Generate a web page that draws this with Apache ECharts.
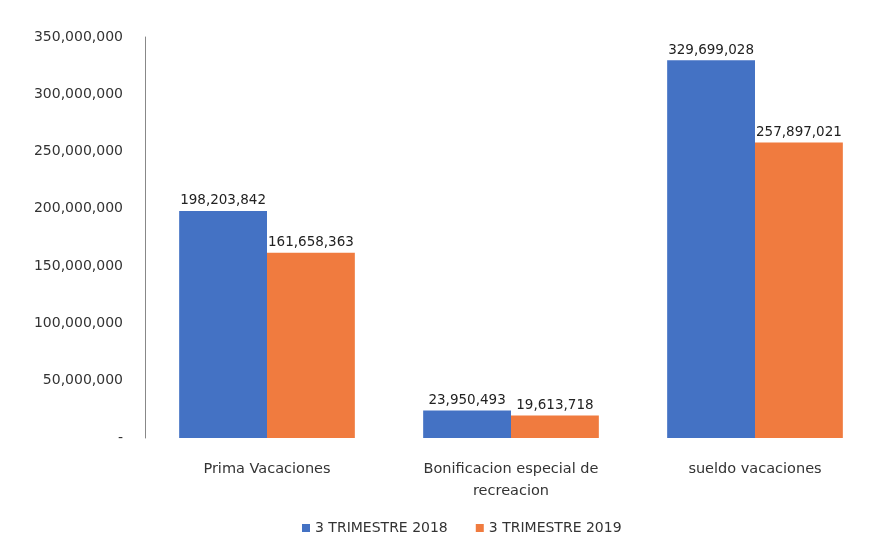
<!DOCTYPE html>
<html>
<head>
<meta charset="utf-8">
<script src="https://cdn.jsdelivr.net/npm/echarts@6/dist/echarts.min.js"></script>
<style>
  html, body { margin: 0; padding: 0; background: #fff; }
  #chart { width: 888px; height: 560px; }
</style>
</head>
<body>
<div id="chart"></div>
<script>
var categories = ['Prima Vacaciones', 'Bonificacion especial de\nrecreacion', 'sueldo vacaciones'];
var seriesNames = ['3 TRIMESTRE 2018', '3 TRIMESTRE 2019'];
var values2018 = [198203842, 23950493, 329699028];
var values2019 = [161658363, 19613718, 257897021];
var colors = ['#4472C4', '#F07B3F'];

function fmt(v) {
  if (v === 0) return '-';
  return v.toString().replace(/\B(?=(\d{3})+(?!\d))/g, ',');
}

var chart = echarts.init(document.getElementById('chart'));
var labelStyle = {
  show: true,
  position: 'top',
  distance: 3,
  color: '#222',
  fontFamily: 'DejaVu Sans',
  fontSize: 13.5,
  formatter: function (p) { return fmt(p.value); }
};

chart.setOption({
  animation: false,
  textStyle: { fontFamily: 'DejaVu Sans' },
  grid: { left: 145, right: 11, top: 37, bottom: 122 },
  legend: {
    bottom: 20,
    left: 297,
    itemWidth: 8,
    itemHeight: 8,
    itemGap: 28,
    icon: 'rect',
    textStyle: { color: '#333', fontSize: 14, fontFamily: 'DejaVu Sans' },
    data: seriesNames
  },
  xAxis: {
    type: 'category',
    data: categories,
    axisLine: { show: false },
    axisTick: { show: false },
    axisLabel: { color: '#333', fontSize: 14.5, fontFamily: 'DejaVu Sans', margin: 20, lineHeight: 22 }
  },
  yAxis: {
    type: 'value',
    min: 0,
    max: 350000000,
    interval: 50000000,
    splitLine: { show: false },
    axisLine: { show: true, lineStyle: { color: '#888' } },
    axisTick: { show: false },
    axisLabel: { color: '#333', fontSize: 14, fontFamily: 'DejaVu Sans', margin: 22, formatter: fmt }
  },
  series: [
    {
      name: seriesNames[0],
      type: 'bar',
      data: values2018,
      itemStyle: { color: colors[0] },
      barGap: '0%',
      barCategoryGap: '28%',
      label: labelStyle
    },
    {
      name: seriesNames[1],
      type: 'bar',
      data: values2019,
      itemStyle: { color: colors[1] },
      label: labelStyle
    }
  ]
});
</script>
</body>
</html>
